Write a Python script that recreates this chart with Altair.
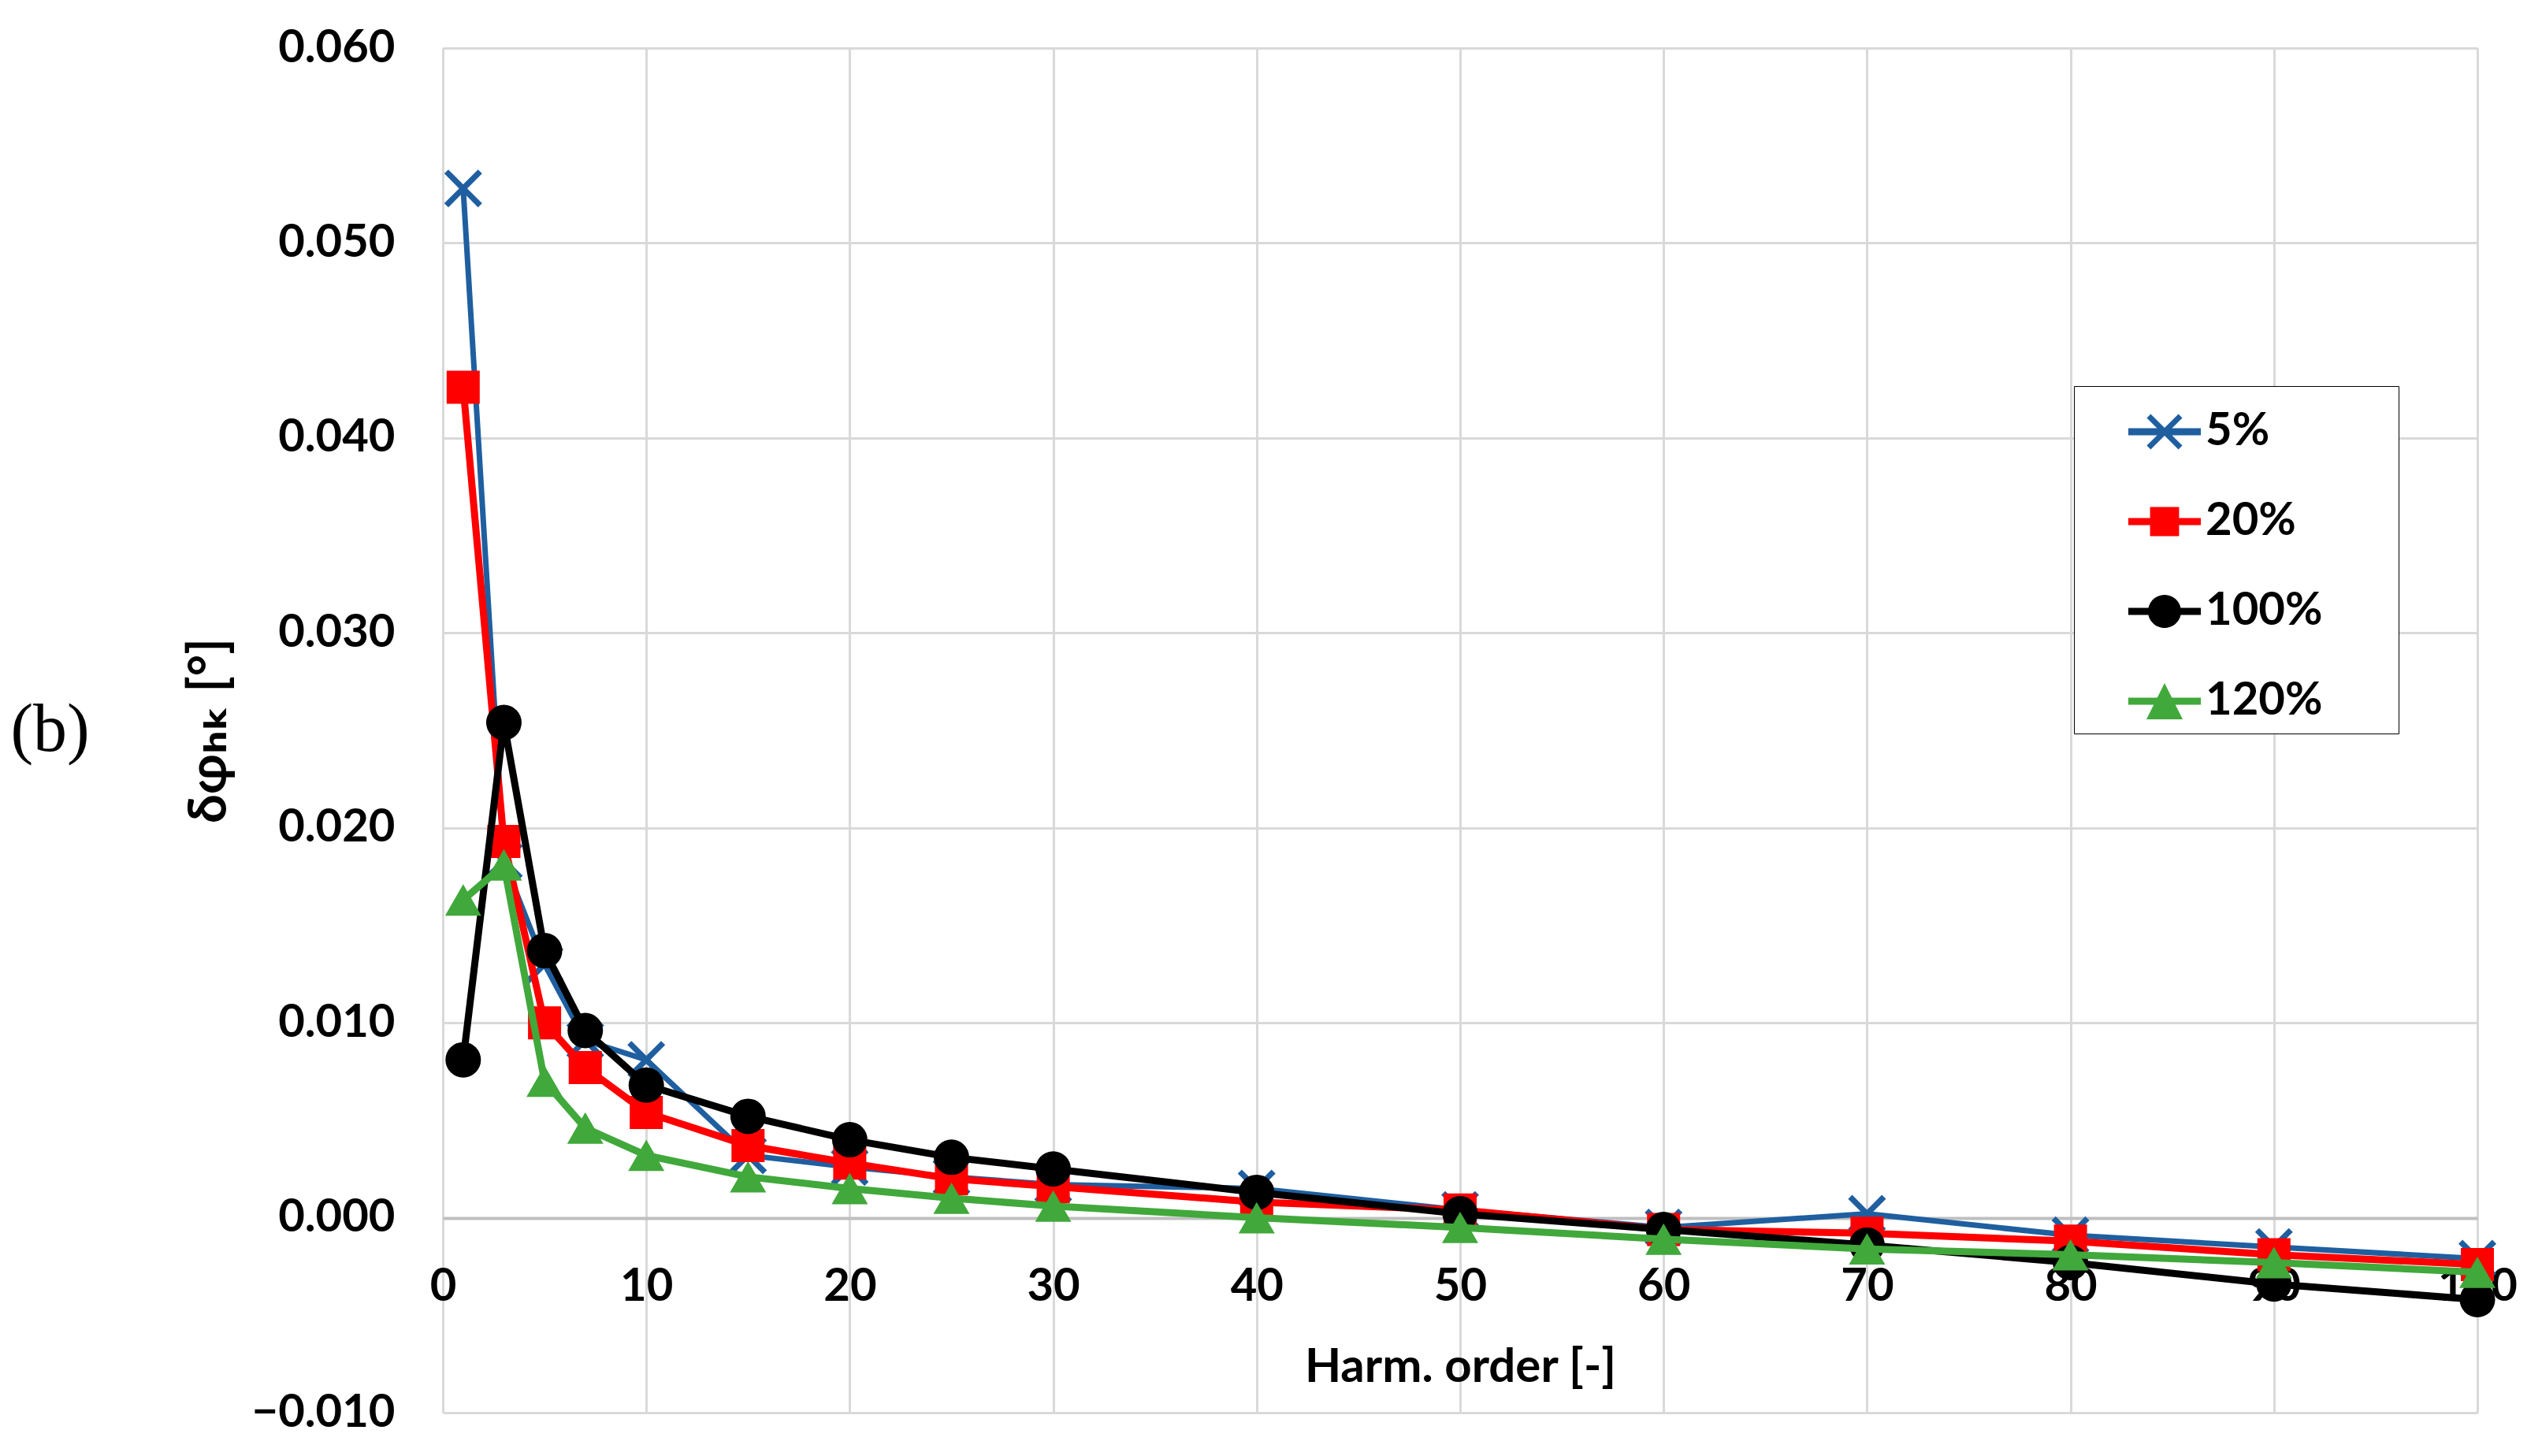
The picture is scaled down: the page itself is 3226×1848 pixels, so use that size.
import altair as alt
import pandas as pd

# ---- data ----
harm = [1, 3, 5, 7, 10, 15, 20, 25, 30, 40, 50, 60, 70, 80, 90, 100]
s5 = [0.0528, 0.0183, 0.0130, 0.0091, 0.0081, 0.0032, 0.0026, 0.0021, 0.0017, 0.0015,
      0.0004, -0.0005, 0.0002, -0.0009, -0.0015, -0.0021]
s20 = [0.0426, 0.0193, 0.0100, 0.0077, 0.0054, 0.0037, 0.0028, 0.0020, 0.0016, 0.0008,
       0.0004, -0.0006, -0.0008, -0.0012, -0.0019, -0.0024]
s100 = [0.0081, 0.0254, 0.0137, 0.0096, 0.0068, 0.0052, 0.0040, 0.0031, 0.0025, 0.0013,
        0.0002, -0.0006, -0.0014, -0.0023, -0.0034, -0.0042]
s120 = [0.0163, 0.0181, 0.0070, 0.0046, 0.0032, 0.0021, 0.0015, 0.0010, 0.0006, 0.0000,
        -0.0005, -0.0011, -0.0016, -0.0019, -0.0023, -0.0028]
series = ["5%", "20%", "100%", "120%"]
colors = ["#1F5FA0", "#FF0000", "#000000", "#41A83B"]
x_ticks = list(range(0, 101, 10))
y_ticks = [-0.01, 0.0, 0.01, 0.02, 0.03, 0.04, 0.05, 0.06]

rows = []
for name, vals in zip(series, [s5, s20, s100, s120]):
    for h, v in zip(harm, vals):
        rows.append({"h": h, "v": v, "s": name})
df = pd.DataFrame(rows)

# marker shapes (plot)
X_PATH = ("M-1,-0.785L-0.785,-1L0,-0.215L0.785,-1L1,-0.785L0.215,0L1,0.785L0.785,1"
          "L0,0.215L-0.785,1L-1,0.785L-0.215,0Z")
shapes = [X_PATH, "square", "circle", "triangle-up"]
sizes = [2304, 1764, 2025, 2116]
line_w = [7, 9, 9, 9]

# legend symbols: line + marker combined
BAR = "M-1,-0.1H1V0.1H-1Z"
LEG_X = ("M-0.49,-0.382L-0.382,-0.49L0,-0.108L0.382,-0.49L0.49,-0.382L0.108,0L0.49,0.382"
         "L0.382,0.49L0,0.108L-0.382,0.49L-0.49,0.382L-0.108,0Z")
LEG_SQ = "M-0.4,-0.4H0.4V0.4H-0.4Z"
LEG_CI = "M-0.457,0A0.457,0.457 0 1,1 0.457,0A0.457,0.457 0 1,1 -0.457,0Z"
LEG_TR = "M0,-0.5L0.5,0.5L-0.5,0.5Z"
leg_paths = [BAR + LEG_X, BAR + LEG_SQ, BAR + LEG_CI, BAR + LEG_TR]
shape_expr = (f"datum.value === '5%' ? '{leg_paths[0]}' : datum.value === '20%' ? '{leg_paths[1]}'"
              f" : datum.value === '100%' ? '{leg_paths[2]}' : '{leg_paths[3]}'")

FONT = "Lato"
FS = 58
W, H = 2582, 1732
x_offset = -247

x_enc = alt.X(
    "h:Q",
    scale=alt.Scale(domain=[0, 100], nice=False),
    axis=alt.Axis(
        values=x_ticks, grid=True, gridColor="#d9d9d9", gridWidth=3,
        domain=True, domainColor="#bfbfbf", domainWidth=4, ticks=False,
        labelFont=FONT, labelFontSize=FS, labelFontWeight="bold", labelColor="black",
        labelPadding=58, labelFlush=False, labelOverlap=False, offset=x_offset,
        title="Harm. order [-]", titleFont=FONT, titleFontSize=60, titleFontWeight="bold",
        titleColor="black", titlePadding=44,
    ),
)
y_enc = alt.Y(
    "v:Q",
    scale=alt.Scale(domain=[-0.01, 0.06], nice=False, zero=False),
    axis=alt.Axis(
        values=y_ticks, grid=True, gridColor="#d9d9d9", gridWidth=3,
        domain=False, ticks=False,
        labelFont=FONT, labelFontSize=FS, labelFontWeight="bold", labelColor="black",
        labelPadding=61, labelFlush=False, labelOverlap=False, labelLimit=400,
        labelExpr="datum.value < 0 ? '\u2212' + format(-datum.value, '.3f') : format(datum.value, '.3f')",
        title="\u03b4\u03c6\u2095\u2096 [\u00b0]", titleFont="Lato, DejaVu Sans", titleFontSize=66,
        titleFontWeight="bold", titleColor="black",
        titleX=-296, titleY=H / 2, titleAngle=270, titleAlign="center", titleBaseline="middle",
    ),
)

color_scale = alt.Scale(domain=series, range=colors)

legend = alt.Legend(
    title=None, orient="none", legendX=2070, legendY=429,
    strokeColor="black", fillColor="white", padding=12,
    symbolSize=8464, symbolOffset=57, symbolStrokeWidth=0, symbolOpacity=1,
    symbolType={"expr": shape_expr},
    labelFont=FONT, labelFontSize=FS, labelFontWeight="bold", labelColor="black",
    labelOffset=6, rowPadding=39, labelLimit=600,
    labelExpr="datum.label + '\u2800\u2800'",
)

base = alt.Chart(df)
layers = []
for i, name in enumerate(series):
    sub = base.transform_filter(alt.datum.s == name)
    layers.append(
        sub.mark_line(strokeWidth=line_w[i], color=colors[i]).encode(x=x_enc, y=y_enc)
    )
    layers.append(
        sub.mark_point(filled=True, opacity=1, size=sizes[i], strokeWidth=0,
                       shape=shapes[i]).encode(
            x=x_enc, y=y_enc,
            color=alt.Color("s:N", scale=color_scale, legend=legend),
        )
    )

chart = alt.layer(*layers).properties(
    width=W, height=H,
    title=alt.TitleParams("(b)", orient="left", angle=0, align="right", baseline="middle",
                          anchor="middle", font="Liberation Serif", fontSize=86,
                          fontWeight="normal", color="black", offset=19),
    padding={"left": 5, "top": 24, "right": 5, "bottom": 5},
).configure_view(stroke=None).configure(background="white")

chart.save("out.html", embed_options={"renderer": "svg", "actions": False})
